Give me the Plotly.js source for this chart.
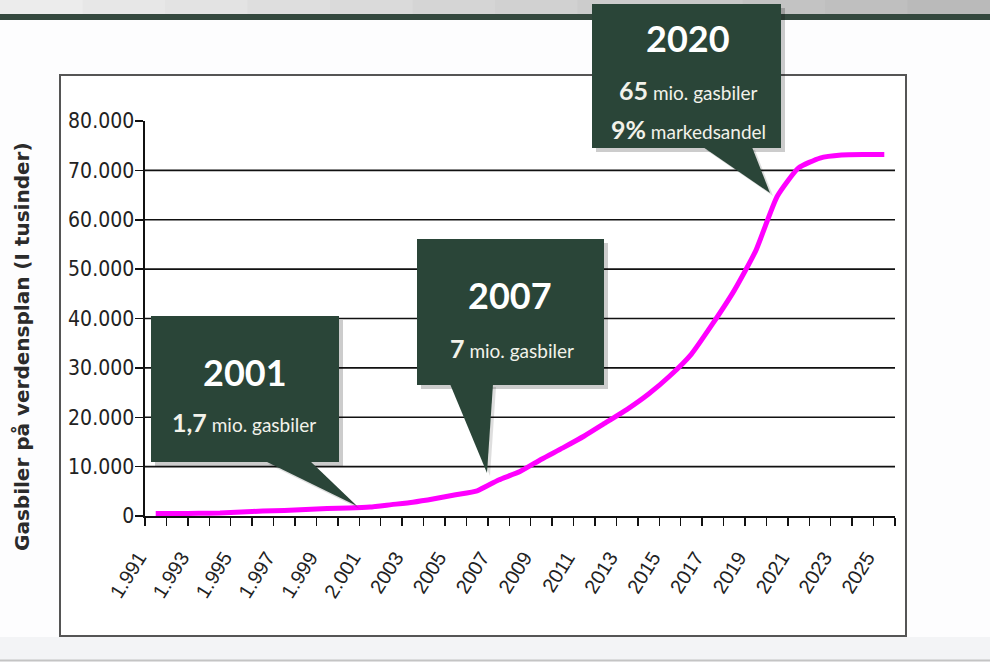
<!DOCTYPE html>
<html>
<head>
<meta charset="utf-8">
<script src="https://cdn.plot.ly/plotly-3.0.1.min.js"></script>
<style>
  html, body { margin: 0; padding: 0; background: #fdfdfe; }
  #chart { width: 990px; height: 662px; }
</style>
</head>
<body>
<div id="chart"></div>
<script>
// ---- data ----
const years = [1991,1992,1993,1994,1995,1996,1997,1998,1999,2000,2001,2002,2003,2004,2005,2006,2007,2008,2009,2010,2011,2012,2013,2014,2015,2016,2017,2018,2019,2020,2021,2022,2023,2024,2025];
const gasCars = [500,500,550,600,800,1000,1100,1300,1500,1600,1800,2300,2800,3500,4300,5100,7300,9000,11500,13800,16200,18900,21600,24700,28400,32800,39000,45700,53700,64700,70500,72500,73100,73200,73200];
const xTickYears = [1991,1993,1995,1997,1999,2001,2003,2005,2007,2009,2011,2013,2015,2017,2019,2021,2023,2025];
const xTickText = ['1.991','1.993','1.995','1.997','1.999','2.001','2003','2005','2007','2009','2011','2013','2015','2017','2019','2021','2023','2025'];
const yTicks = [0,10000,20000,30000,40000,50000,60000,70000,80000];
const yTickText = ['0','10.000','20.000','30.000','40.000','50.000','60.000','70.000','80.000'];
const yTitle = 'Gasbiler på verdensplan (I tusinder)';
const calloutYears = ['2001','2007','2020'];
const calloutLines = [
  ['<b>1,7</b>', 'mio. gasbiler'],
  ['<b>7</b>', 'mio. gasbiler'],
  ['<b>65</b>', 'mio. gasbiler', '<b>9%</b>', 'markedsandel']
];

// ---- layout geometry ----
const W = 990, H = 662;
const M = {l: 145, r: 95, t: 121, b: 146};
const PW = W - M.l - M.r, PH = H - M.t - M.b;
const px = v => (v - M.l) / PW;
const py = v => (H - M.b - v) / PH;

const CALLOUT_FONT = 'Lato, "Open Sans", sans-serif';
const TICK_NARROW = '"Liberation Sans Narrow", "DejaVu Sans Condensed", sans-serif';
const BOX = '#2a4538';

const shapes = [];
const annotations = [];

// header gradient bar
const nSlices = 12;
for (let i = 0; i < nSlices; i++) {
  const t = i / (nSlices - 1);
  const c = Math.round(236 - t * 50);
  shapes.push({type: 'rect', xref: 'paper', yref: 'paper', layer: 'below',
    x0: px(i * W / nSlices), x1: px((i + 1) * W / nSlices + 1), y0: py(0), y1: py(14),
    fillcolor: `rgb(${c},${c},${c})`, line: {width: 0}});
}
shapes.push({type: 'rect', xref: 'paper', yref: 'paper', layer: 'below',
  x0: px(0), x1: px(W), y0: py(14), y1: py(20), fillcolor: '#34483e', line: {width: 0}});
// bottom strip
shapes.push({type: 'rect', xref: 'paper', yref: 'paper', layer: 'below',
  x0: px(0), x1: px(W), y0: py(637), y1: py(660), fillcolor: '#f3f4f6', line: {width: 0}});
shapes.push({type: 'line', xref: 'paper', yref: 'paper', layer: 'below',
  x0: px(0), x1: px(W), y0: py(660.5), y1: py(660.5), line: {color: '#c4c4c4', width: 2}});
// white chart frame
shapes.push({type: 'rect', xref: 'paper', yref: 'paper', layer: 'below',
  x0: px(60), x1: px(906), y0: py(75), y1: py(636), fillcolor: '#ffffff', line: {color: '#555555', width: 2}});

// gridlines at the inner tick values
yTicks.slice(1, -1).forEach(v => {
  shapes.push({type: 'line', xref: 'paper', yref: 'y', layer: 'below',
    x0: 0, x1: 1, y0: v, y1: v, line: {color: '#111111', width: 1.6}});
});

// callouts: box [x0,y0,x1,y1], pointer polygon, text centres
const callouts = [
  {box: [151, 316, 339, 462], ptr: [[265, 461], [310, 461], [357, 506]], yearPos: [245, 372], linePos: [[244, 422]]},
  {box: [417, 239, 604, 385], ptr: [[450, 384], [493, 384], [487, 473]], yearPos: [510, 295], linePos: [[512, 348]]},
  {box: [592, 4, 781, 148], ptr: [[703, 147], [752, 147], [770, 193]], yearPos: [688, 38], linePos: [[688, 90], [688, 129]]}
];
const pathOf = pts => 'M' + pts.map(p => px(p[0]) + ',' + py(p[1])).join(' L') + ' Z';

callouts.forEach((c, i) => {
  const [x0, y0, x1, y1] = c.box;
  // shadow
  shapes.push({type: 'rect', xref: 'paper', yref: 'paper', layer: 'above',
    x0: px(x0 + 4), x1: px(x1 + 4), y0: py(y0 + 4), y1: py(y1 + 4),
    fillcolor: 'rgba(0,0,0,0.2)', line: {width: 0}});
  shapes.push({type: 'path', xref: 'paper', yref: 'paper', layer: 'above',
    path: pathOf(c.ptr.map(p => [p[0] + 3, p[1] + 3])), fillcolor: 'rgba(0,0,0,0.13)', line: {width: 0}});
  shapes.push({type: 'rect', xref: 'paper', yref: 'paper', layer: 'above',
    x0: px(x0), x1: px(x1), y0: py(y0), y1: py(y1), fillcolor: BOX, line: {width: 0}});
  shapes.push({type: 'path', xref: 'paper', yref: 'paper', layer: 'above',
    path: pathOf(c.ptr), fillcolor: BOX, line: {width: 0}});
  annotations.push({xref: 'paper', yref: 'paper', x: px(c.yearPos[0]), y: py(c.yearPos[1]),
    xanchor: 'center', yanchor: 'middle', showarrow: false,
    text: '<b>' + calloutYears[i] + '</b>', font: {family: CALLOUT_FONT, size: 36, color: '#ffffff'}});
  c.linePos.forEach((lp, j) => {
    const big = calloutLines[i][2 * j], small = calloutLines[i][2 * j + 1];
    annotations.push({xref: 'paper', yref: 'paper', x: px(lp[0]), y: py(lp[1]),
      xanchor: 'center', yanchor: 'middle', showarrow: false,
      text: '<span style="font-size:25px">' + big + '</span> ' + small,
      font: {family: CALLOUT_FONT, size: 19, color: '#f2f2ea'}});
  });
});

// y-axis title
annotations.push({xref: 'paper', yref: 'paper', x: px(22), y: py(347), xanchor: 'center', yanchor: 'middle',
  showarrow: false, textangle: -90, text: '<b>' + yTitle + '</b>',
  font: {family: '"DejaVu Sans", sans-serif', size: 20, color: '#2b2b2b'}});

const trace = {
  type: 'scatter', mode: 'lines', x: years, y: gasCars,
  line: {color: '#ff00ff', width: 5, shape: 'spline', smoothing: 0.5},
  hoverinfo: 'x+y', showlegend: false
};

const layout = {
  width: W, height: H,
  margin: M,
  paper_bgcolor: '#fdfdfe',
  plot_bgcolor: 'rgba(0,0,0,0)',
  showlegend: false,
  xaxis: {
    type: 'linear', range: [1990.5, 2025.5], fixedrange: true,
    tickmode: 'array', tickvals: xTickYears, ticktext: xTickText,
    ticks: '', tickangle: -58, ticklabelstandoff: 20, ticklabelshift: -17,
    tickfont: {family: '"Liberation Sans", Arial, sans-serif', size: 20, color: '#222222'},
    minor: {tick0: 1990.5, dtick: 1, ticks: 'outside', ticklen: 8, tickwidth: 1.5, tickcolor: '#111111', showgrid: false},
    showgrid: false, zeroline: false,
    showline: true, linecolor: '#111111', linewidth: 2
  },
  yaxis: {
    range: [0, 80000], fixedrange: true,
    tickmode: 'array', tickvals: yTicks, ticktext: yTickText,
    ticks: 'outside', ticklen: 8, tickwidth: 1.5, tickcolor: '#111111',
    ticklabelstandoff: -3,
    tickfont: {family: TICK_NARROW, size: 21, color: '#222222'},
    showgrid: false, zeroline: false,
    showline: true, linecolor: '#111111', linewidth: 1.6
  },
  shapes: shapes,
  annotations: annotations
};

Plotly.newPlot('chart', [trace], layout, {displayModeBar: false, staticPlot: true});
</script>
</body>
</html>
